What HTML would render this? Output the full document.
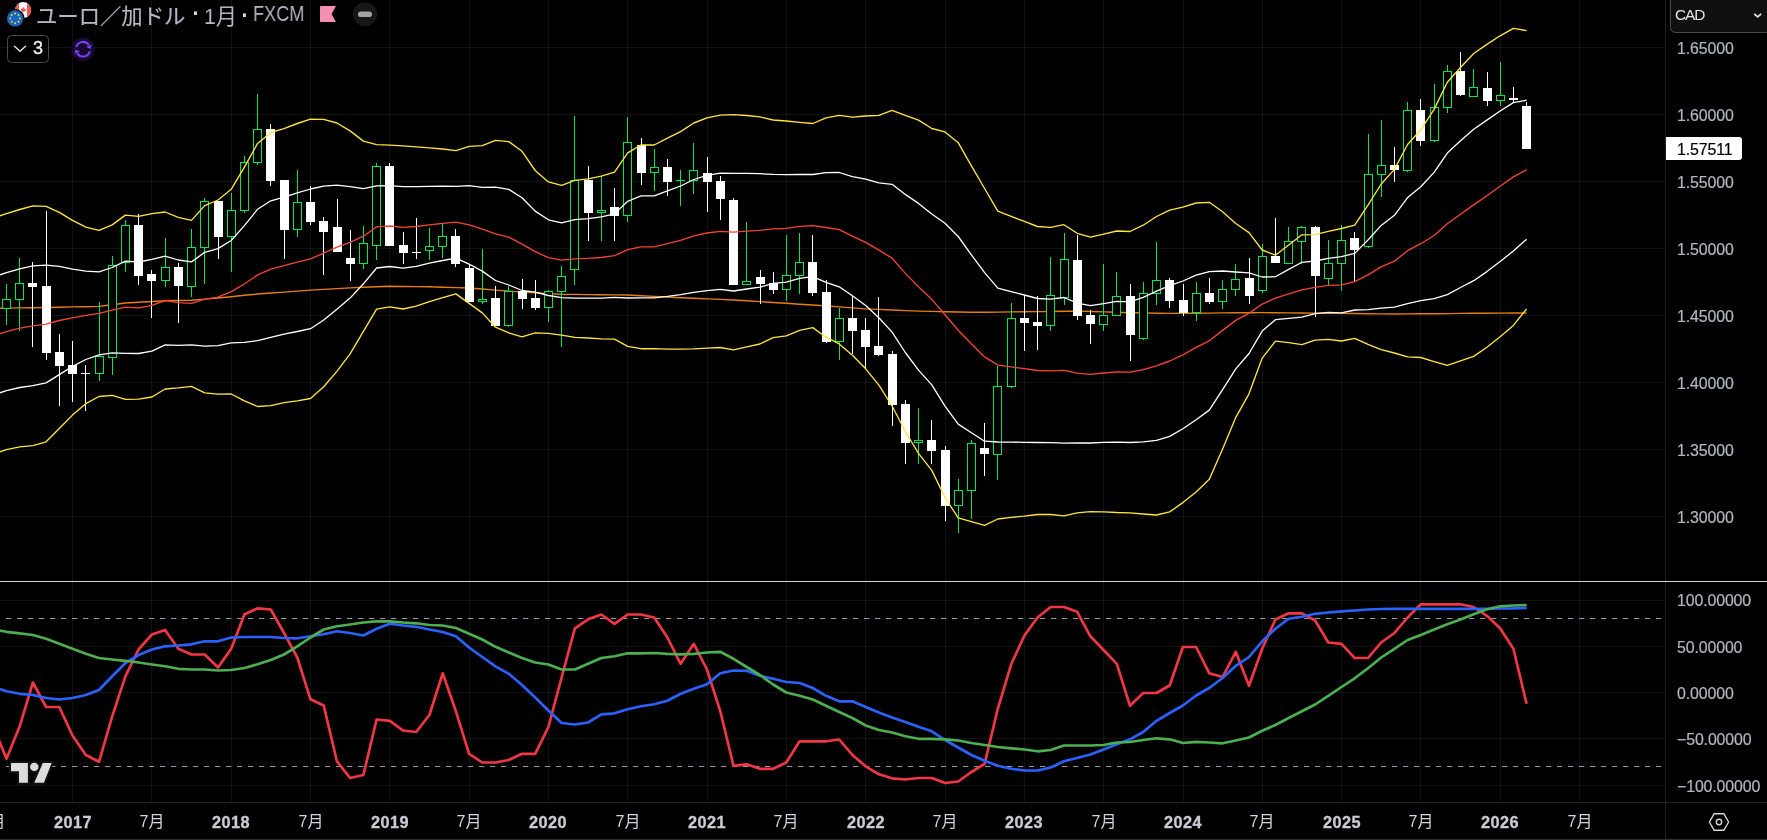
<!DOCTYPE html>
<html lang="ja"><head><meta charset="utf-8"><title>EURCAD</title>
<style>
html,body{margin:0;padding:0;background:#000;}
body{width:1767px;height:840px;position:relative;overflow:hidden;font-family:"Liberation Sans","Noto Sans CJK JP",sans-serif;}
.t{position:absolute;white-space:nowrap;line-height:1;will-change:transform;}
.pl{left:1677px;font-size:15.9px;color:#b2b5be;letter-spacing:-0.12px;-webkit-text-stroke:0.2px #b2b5be;}
.tl{font-size:16px;color:#d1d4dc;transform:translateX(-50%);top:814px;}
.tl.b{font-weight:bold;font-size:16.3px;letter-spacing:0.5px;color:#c9ccd5;-webkit-text-stroke:0.3px #c9ccd5;}
</style></head><body>
<svg width="1767" height="840" viewBox="0 0 1767 840" style="position:absolute;left:0;top:0">
<path d="M72.5 0V802M151.5 0V802M231.5 0V802M310.5 0V802M389.5 0V802M469.5 0V802M548.5 0V802M627.5 0V802M707.5 0V802M786.5 0V802M865.5 0V802M945.5 0V802M1024.5 0V802M1103.5 0V802M1183.5 0V802M1262.5 0V802M1341.5 0V802M1420.5 0V802M1500.5 0V802M1579.5 0V802" stroke="#fff" stroke-opacity="0.068" stroke-width="1" fill="none" shape-rendering="crispEdges"/>
<path d="M0 47.5H1665M0 114.5H1665M0 181.5H1665M0 248.5H1665M0 315.5H1665M0 382.5H1665M0 449.5H1665M0 516.5H1665M0 600.5H1665M0 646.5H1665M0 692.5H1665M0 738.5H1665M0 785.5H1665" stroke="#fff" stroke-opacity="0.068" stroke-width="1" fill="none" shape-rendering="crispEdges"/>
<path d="M-6.8 308.3 L6.5 308.1 L19.7 307.9 L32.9 307.7 L46.1 307.5 L59.3 307.2 L72.5 306.9 L85.8 306.7 L99 306.4 L112.2 304.7 L125.4 303 L138.6 302.2 L151.9 301.5 L165.1 300.7 L178.3 300.5 L191.5 300.3 L204.7 299.1 L218 298 L231.2 296.7 L244.4 295.3 L257.6 294 L270.8 293 L284 292.1 L297.3 291.1 L310.5 290.1 L323.7 289.4 L336.9 288.6 L350.1 287.9 L363.4 287.2 L376.6 286.8 L389.8 286.3 L403 286.5 L416.2 286.6 L429.4 286.8 L442.7 287.2 L455.9 287.6 L469.1 288 L482.3 289 L495.5 290.1 L508.8 291.1 L522 292.1 L535.2 292.8 L548.4 293.6 L561.6 294.3 L574.9 294.4 L588.1 294.6 L601.3 294.7 L614.5 294.9 L627.7 295 L640.9 295.7 L654.2 296.4 L667.4 297 L680.6 297.7 L693.8 298.3 L707 298.9 L720.3 299.4 L733.5 300 L746.7 300.8 L759.9 301.6 L773.1 302.5 L786.3 303.3 L799.6 304.2 L812.8 305 L826 305.9 L839.2 306.9 L852.4 307.9 L865.7 308.9 L878.9 309.4 L892.1 310 L905.3 310.6 L918.5 311.1 L931.8 311.4 L945 311.7 L958.2 312 L971.4 312.3 L984.6 312.2 L997.8 312.1 L1011.1 311.9 L1024.3 311.8 L1037.5 311.6 L1050.7 311.5 L1063.9 311.3 L1077.2 311.1 L1090.4 311.5 L1103.6 311.9 L1116.8 312.3 L1130 312.7 L1143.2 312.9 L1156.5 313.2 L1169.7 313.4 L1182.9 313.3 L1196.1 313.2 L1209.3 313.1 L1222.6 312.9 L1235.8 312.8 L1249 312.7 L1262.2 312.6 L1275.4 312.7 L1288.7 312.9 L1301.9 313 L1315.1 313.1 L1328.3 313.3 L1341.5 313.4 L1354.7 313.5 L1368 313.7 L1381.2 313.9 L1394.4 314 L1407.6 313.9 L1420.8 313.8 L1434.1 313.7 L1447.3 313.6 L1460.5 313.4 L1473.7 313.3 L1486.9 313.2 L1500.1 313.1 L1513.4 313 L1526.6 312.9" stroke="#ea7c10" stroke-width="1.45" fill="none" stroke-linejoin="round" stroke-linecap="butt" />
<g fill="#000" stroke="#00e64d" stroke-width="1" shape-rendering="crispEdges"><rect x="2.5" y="299.5" width="8" height="9"/><rect x="15.5" y="283.5" width="8" height="16"/><rect x="95.5" y="356.5" width="8" height="17"/><rect x="108.5" y="265.5" width="8" height="92"/><rect x="121.5" y="225.5" width="8" height="37"/><rect x="161.5" y="267.5" width="8" height="13"/><rect x="187.5" y="247.5" width="8" height="39"/><rect x="200.5" y="201.5" width="8" height="46"/><rect x="227.5" y="210.5" width="8" height="26"/><rect x="240.5" y="162.5" width="8" height="48"/><rect x="253.5" y="129.5" width="8" height="33"/><rect x="293.5" y="202.5" width="8" height="27"/><rect x="359.5" y="243.5" width="8" height="20"/><rect x="372.5" y="166.5" width="8" height="79"/><rect x="425.5" y="246.5" width="8" height="4"/><rect x="438.5" y="236.5" width="8" height="10"/><rect x="478.5" y="299.5" width="8" height="2"/><rect x="504.5" y="291.5" width="8" height="34"/><rect x="544.5" y="291.5" width="8" height="16"/><rect x="557.5" y="276.5" width="8" height="15"/><rect x="570.5" y="180.5" width="8" height="89"/><rect x="597.5" y="210.5" width="8" height="2"/><rect x="623.5" y="142.5" width="8" height="73"/><rect x="650.5" y="167.5" width="8" height="5"/><rect x="689.5" y="170.5" width="8" height="10"/><rect x="742.5" y="281.5" width="8" height="3"/><rect x="782.5" y="275.5" width="8" height="14"/><rect x="795.5" y="262.5" width="8" height="13"/><rect x="835.5" y="318.5" width="8" height="23"/><rect x="914.5" y="440.5" width="8" height="2"/><rect x="954.5" y="490.5" width="8" height="15"/><rect x="967.5" y="443.5" width="8" height="47"/><rect x="993.5" y="386.5" width="8" height="68"/><rect x="1007.5" y="318.5" width="8" height="68"/><rect x="1046.5" y="295.5" width="8" height="30"/><rect x="1060.5" y="259.5" width="8" height="38"/><rect x="1099.5" y="315.5" width="8" height="9"/><rect x="1112.5" y="296.5" width="8" height="19"/><rect x="1139.5" y="293.5" width="8" height="45"/><rect x="1152.5" y="280.5" width="8" height="13"/><rect x="1192.5" y="293.5" width="8" height="19"/><rect x="1218.5" y="289.5" width="8" height="12"/><rect x="1231.5" y="279.5" width="8" height="10"/><rect x="1258.5" y="256.5" width="8" height="34"/><rect x="1284.5" y="241.5" width="8" height="22"/><rect x="1297.5" y="227.5" width="8" height="14"/><rect x="1324.5" y="263.5" width="8" height="15"/><rect x="1337.5" y="240.5" width="8" height="23"/><rect x="1364.5" y="174.5" width="8" height="72"/><rect x="1377.5" y="165.5" width="8" height="9"/><rect x="1403.5" y="110.5" width="8" height="60"/><rect x="1430.5" y="107.5" width="8" height="33"/><rect x="1443.5" y="71.5" width="8" height="36"/><rect x="1469.5" y="87.5" width="8" height="9"/><rect x="1496.5" y="95.5" width="8" height="5"/></g>
<g fill="#00e64d" shape-rendering="crispEdges"><rect x="6" y="284" width="1" height="15"/><rect x="6" y="309" width="1" height="16"/><rect x="19" y="258" width="1" height="25"/><rect x="19" y="300" width="1" height="31"/><rect x="99" y="302" width="1" height="54"/><rect x="99" y="374" width="1" height="7"/><rect x="112" y="256" width="1" height="9"/><rect x="112" y="358" width="1" height="17"/><rect x="125" y="220" width="1" height="5"/><rect x="125" y="263" width="1" height="9"/><rect x="165" y="238" width="1" height="29"/><rect x="165" y="281" width="1" height="6"/><rect x="191" y="229" width="1" height="18"/><rect x="191" y="287" width="1" height="10"/><rect x="204" y="198" width="1" height="3"/><rect x="204" y="248" width="1" height="36"/><rect x="231" y="193" width="1" height="17"/><rect x="231" y="237" width="1" height="35"/><rect x="244" y="156" width="1" height="6"/><rect x="244" y="211" width="1" height="2"/><rect x="257" y="94" width="1" height="35"/><rect x="257" y="163" width="1" height="2"/><rect x="297" y="170" width="1" height="32"/><rect x="297" y="230" width="1" height="7"/><rect x="363" y="226" width="1" height="17"/><rect x="363" y="264" width="1" height="5"/><rect x="376" y="163" width="1" height="3"/><rect x="376" y="246" width="1" height="14"/><rect x="429" y="228" width="1" height="18"/><rect x="429" y="251" width="1" height="9"/><rect x="442" y="224" width="1" height="12"/><rect x="442" y="247" width="1" height="11"/><rect x="482" y="249" width="1" height="50"/><rect x="482" y="302" width="1" height="2"/><rect x="508" y="286" width="1" height="5"/><rect x="508" y="326" width="1" height="1"/><rect x="548" y="290" width="1" height="1"/><rect x="548" y="308" width="1" height="14"/><rect x="561" y="266" width="1" height="10"/><rect x="561" y="292" width="1" height="55"/><rect x="574" y="116" width="1" height="64"/><rect x="574" y="270" width="1" height="15"/><rect x="601" y="176" width="1" height="34"/><rect x="601" y="213" width="1" height="28"/><rect x="627" y="117" width="1" height="25"/><rect x="627" y="216" width="1" height="6"/><rect x="654" y="149" width="1" height="18"/><rect x="654" y="173" width="1" height="18"/><rect x="680" y="170" width="1" height="10"/><rect x="680" y="181" width="1" height="25"/><rect x="676" y="180" width="9" height="1"/><rect x="693" y="143" width="1" height="27"/><rect x="693" y="181" width="1" height="13"/><rect x="746" y="222" width="1" height="59"/><rect x="786" y="235" width="1" height="40"/><rect x="786" y="290" width="1" height="11"/><rect x="799" y="233" width="1" height="29"/><rect x="799" y="276" width="1" height="18"/><rect x="839" y="308" width="1" height="10"/><rect x="839" y="342" width="1" height="18"/><rect x="918" y="408" width="1" height="32"/><rect x="918" y="443" width="1" height="21"/><rect x="958" y="479" width="1" height="11"/><rect x="958" y="506" width="1" height="27"/><rect x="971" y="440" width="1" height="3"/><rect x="971" y="491" width="1" height="28"/><rect x="997" y="366" width="1" height="20"/><rect x="997" y="455" width="1" height="25"/><rect x="1011" y="303" width="1" height="15"/><rect x="1011" y="387" width="1" height="1"/><rect x="1050" y="257" width="1" height="38"/><rect x="1050" y="326" width="1" height="5"/><rect x="1064" y="233" width="1" height="26"/><rect x="1064" y="298" width="1" height="7"/><rect x="1103" y="264" width="1" height="51"/><rect x="1103" y="325" width="1" height="6"/><rect x="1116" y="272" width="1" height="24"/><rect x="1143" y="282" width="1" height="11"/><rect x="1143" y="339" width="1" height="1"/><rect x="1156" y="242" width="1" height="38"/><rect x="1156" y="294" width="1" height="11"/><rect x="1196" y="282" width="1" height="11"/><rect x="1196" y="313" width="1" height="8"/><rect x="1222" y="280" width="1" height="9"/><rect x="1222" y="302" width="1" height="7"/><rect x="1235" y="264" width="1" height="15"/><rect x="1235" y="290" width="1" height="6"/><rect x="1262" y="244" width="1" height="12"/><rect x="1262" y="291" width="1" height="2"/><rect x="1288" y="227" width="1" height="14"/><rect x="1301" y="226" width="1" height="1"/><rect x="1301" y="242" width="1" height="22"/><rect x="1328" y="240" width="1" height="23"/><rect x="1328" y="279" width="1" height="6"/><rect x="1341" y="225" width="1" height="15"/><rect x="1341" y="264" width="1" height="27"/><rect x="1368" y="134" width="1" height="40"/><rect x="1368" y="247" width="1" height="1"/><rect x="1381" y="120" width="1" height="45"/><rect x="1381" y="175" width="1" height="22"/><rect x="1407" y="102" width="1" height="8"/><rect x="1407" y="171" width="1" height="1"/><rect x="1434" y="84" width="1" height="23"/><rect x="1434" y="141" width="1" height="1"/><rect x="1447" y="65" width="1" height="6"/><rect x="1447" y="108" width="1" height="5"/><rect x="1473" y="69" width="1" height="18"/><rect x="1500" y="62" width="1" height="33"/><rect x="1500" y="101" width="1" height="5"/></g>
<g fill="#fff" shape-rendering="crispEdges"><rect x="32" y="262" width="1" height="85"/><rect x="28" y="283" width="9" height="4"/><rect x="46" y="211" width="1" height="149"/><rect x="42" y="286" width="9" height="67"/><rect x="59" y="334" width="1" height="72"/><rect x="55" y="352" width="9" height="14"/><rect x="72" y="341" width="1" height="61"/><rect x="68" y="365" width="9" height="9"/><rect x="85" y="365" width="1" height="46"/><rect x="81" y="373" width="9" height="1"/><rect x="138" y="214" width="1" height="71"/><rect x="134" y="225" width="9" height="51"/><rect x="151" y="270" width="1" height="48"/><rect x="147" y="274" width="9" height="7"/><rect x="178" y="263" width="1" height="60"/><rect x="174" y="267" width="9" height="19"/><rect x="218" y="201" width="1" height="58"/><rect x="214" y="201" width="9" height="36"/><rect x="270" y="124" width="1" height="62"/><rect x="266" y="129" width="9" height="52"/><rect x="284" y="180" width="1" height="79"/><rect x="280" y="180" width="9" height="50"/><rect x="310" y="186" width="1" height="39"/><rect x="306" y="202" width="9" height="20"/><rect x="323" y="217" width="1" height="58"/><rect x="319" y="221" width="9" height="11"/><rect x="337" y="199" width="1" height="53"/><rect x="333" y="227" width="9" height="25"/><rect x="350" y="230" width="1" height="51"/><rect x="346" y="258" width="9" height="6"/><rect x="389" y="163" width="1" height="83"/><rect x="385" y="166" width="9" height="80"/><rect x="403" y="232" width="1" height="32"/><rect x="399" y="245" width="9" height="8"/><rect x="416" y="218" width="1" height="41"/><rect x="412" y="252" width="9" height="1"/><rect x="455" y="229" width="1" height="38"/><rect x="451" y="236" width="9" height="28"/><rect x="469" y="265" width="1" height="37"/><rect x="465" y="268" width="9" height="34"/><rect x="495" y="286" width="1" height="40"/><rect x="491" y="298" width="9" height="28"/><rect x="522" y="279" width="1" height="30"/><rect x="518" y="291" width="9" height="8"/><rect x="535" y="280" width="1" height="30"/><rect x="531" y="298" width="9" height="10"/><rect x="588" y="166" width="1" height="75"/><rect x="584" y="180" width="9" height="33"/><rect x="614" y="188" width="1" height="53"/><rect x="610" y="207" width="9" height="9"/><rect x="641" y="138" width="1" height="47"/><rect x="637" y="145" width="9" height="28"/><rect x="667" y="159" width="1" height="37"/><rect x="663" y="167" width="9" height="15"/><rect x="707" y="157" width="1" height="55"/><rect x="703" y="173" width="9" height="9"/><rect x="720" y="176" width="1" height="44"/><rect x="716" y="181" width="9" height="18"/><rect x="733" y="198" width="1" height="87"/><rect x="729" y="200" width="9" height="85"/><rect x="760" y="270" width="1" height="34"/><rect x="756" y="277" width="9" height="7"/><rect x="773" y="272" width="1" height="22"/><rect x="769" y="283" width="9" height="7"/><rect x="812" y="235" width="1" height="61"/><rect x="808" y="262" width="9" height="31"/><rect x="826" y="280" width="1" height="63"/><rect x="822" y="292" width="9" height="50"/><rect x="852" y="296" width="1" height="58"/><rect x="848" y="318" width="9" height="13"/><rect x="865" y="318" width="1" height="51"/><rect x="861" y="330" width="9" height="17"/><rect x="878" y="297" width="1" height="59"/><rect x="874" y="346" width="9" height="9"/><rect x="892" y="351" width="1" height="75"/><rect x="888" y="354" width="9" height="51"/><rect x="905" y="400" width="1" height="64"/><rect x="901" y="404" width="9" height="39"/><rect x="931" y="420" width="1" height="44"/><rect x="927" y="440" width="9" height="11"/><rect x="945" y="446" width="1" height="75"/><rect x="941" y="450" width="9" height="56"/><rect x="984" y="423" width="1" height="53"/><rect x="980" y="448" width="9" height="6"/><rect x="1024" y="295" width="1" height="56"/><rect x="1020" y="318" width="9" height="5"/><rect x="1037" y="296" width="1" height="54"/><rect x="1033" y="322" width="9" height="4"/><rect x="1077" y="235" width="1" height="85"/><rect x="1073" y="260" width="9" height="56"/><rect x="1090" y="310" width="1" height="34"/><rect x="1086" y="315" width="9" height="9"/><rect x="1130" y="284" width="1" height="77"/><rect x="1126" y="296" width="9" height="39"/><rect x="1169" y="278" width="1" height="30"/><rect x="1165" y="280" width="9" height="21"/><rect x="1183" y="284" width="1" height="32"/><rect x="1179" y="300" width="9" height="13"/><rect x="1209" y="278" width="1" height="26"/><rect x="1205" y="293" width="9" height="9"/><rect x="1249" y="258" width="1" height="46"/><rect x="1245" y="278" width="9" height="18"/><rect x="1275" y="218" width="1" height="45"/><rect x="1271" y="256" width="9" height="7"/><rect x="1315" y="226" width="1" height="91"/><rect x="1311" y="227" width="9" height="49"/><rect x="1354" y="232" width="1" height="50"/><rect x="1350" y="238" width="9" height="12"/><rect x="1394" y="147" width="1" height="35"/><rect x="1390" y="165" width="9" height="5"/><rect x="1420" y="99" width="1" height="47"/><rect x="1416" y="110" width="9" height="31"/><rect x="1460" y="52" width="1" height="44"/><rect x="1456" y="71" width="9" height="24"/><rect x="1487" y="72" width="1" height="34"/><rect x="1483" y="88" width="9" height="13"/><rect x="1513" y="87" width="1" height="15"/><rect x="1509" y="98" width="9" height="2"/><rect x="1526" y="102" width="1" height="47"/><rect x="1522" y="106" width="9" height="43"/></g>
<path d="M-6.8 336 L6.5 331.6 L19.7 328.1 L32.9 325.8 L46.1 324.1 L59.3 320.5 L72.5 317.8 L85.8 315.4 L99 313.4 L112.2 310.1 L125.4 307.2 L138.6 307.8 L151.9 305.3 L165.1 300.5 L178.3 302.6 L191.5 303.4 L204.7 299.2 L218 297.1 L231.2 291.6 L244.4 284 L257.6 274.9 L270.8 269.1 L284 265.6 L297.3 262.1 L310.5 258.9 L323.7 253.1 L336.9 247.2 L350.1 242.4 L363.4 236.2 L376.6 226.9 L389.8 226 L403 227.4 L416.2 226.5 L429.4 224.8 L442.7 223.3 L455.9 222.2 L469.1 224.8 L482.3 229.2 L495.5 233.8 L508.8 237.2 L522 244.1 L535.2 251.7 L548.4 257.6 L561.6 260.2 L574.9 258.8 L588.1 258.4 L601.3 257.5 L614.5 255.6 L627.7 249.6 L640.9 246.8 L654.2 246.8 L667.4 243.7 L680.6 240.4 L693.8 235.9 L707 233 L720.3 231.3 L733.5 232.2 L746.7 231.2 L759.9 230.4 L773.1 228.8 L786.3 228.4 L799.6 226.4 L812.8 225.6 L826 227.5 L839.2 229.6 L852.4 236.2 L865.7 242.4 L878.9 250.2 L892.1 258.2 L905.3 273.4 L918.5 286.8 L931.8 299.4 L945 314.7 L958.2 330.3 L971.4 343.8 L984.6 356.9 L997.8 365.1 L1011.1 366.9 L1024.3 368.7 L1037.5 370.5 L1050.7 370.9 L1063.9 370.3 L1077.2 373.1 L1090.4 374.4 L1103.6 373 L1116.8 371.8 L1130 372.2 L1143.2 369.6 L1156.5 365.8 L1169.7 361 L1182.9 354.9 L1196.1 347.4 L1209.3 340.8 L1222.6 330.4 L1235.8 320.4 L1249 313.2 L1262.2 304.1 L1275.4 298.2 L1288.7 293.9 L1301.9 289.8 L1315.1 287.4 L1328.3 285.4 L1341.5 284.8 L1354.7 281.7 L1368 274.8 L1381.2 266.8 L1394.4 261.2 L1407.6 250.7 L1420.8 243.7 L1434.1 235.5 L1447.3 223.8 L1460.5 214.2 L1473.7 204.9 L1486.9 195.8 L1500.1 186.2 L1513.4 176.9 L1526.6 169.7" stroke="#f44336" stroke-width="1.35" fill="none" stroke-linejoin="round" stroke-linecap="butt" />
<path d="M-6.8 277 L6.5 272.6 L19.7 268.8 L32.9 265.8 L46.1 265.2 L59.3 266.4 L72.5 269.1 L85.8 271.2 L99 271.9 L112.2 267.5 L125.4 261.2 L138.6 262 L151.9 259.4 L165.1 256.2 L178.3 260 L191.5 261.9 L204.7 252.4 L218 248.6 L231.2 240.5 L244.4 225.6 L257.6 209.2 L270.8 200.8 L284 197.2 L297.3 192.8 L310.5 189 L323.7 186.2 L336.9 185.1 L350.1 186.6 L363.4 188.6 L376.6 185.8 L389.8 185.6 L403 186.7 L416.2 186.6 L429.4 186.3 L442.7 186.2 L455.9 186.4 L469.1 185.6 L482.3 187.4 L495.5 187.1 L508.8 189.4 L522 197.7 L535.2 211.1 L548.4 219.8 L561.6 222.8 L574.9 219.6 L588.1 218.7 L601.3 216.9 L614.5 213.9 L627.7 201.3 L640.9 195.9 L654.2 195.9 L667.4 190.9 L680.6 186 L693.8 179.5 L707 175.4 L720.3 173.2 L733.5 173.4 L746.7 173.3 L759.9 173.7 L773.1 174.4 L786.3 174.7 L799.6 174.4 L812.8 174.5 L826 172.7 L839.2 172.5 L852.4 176.7 L865.7 179.2 L878.9 182.8 L892.1 184.3 L905.3 194.4 L918.5 203.4 L931.8 214 L945 223.3 L958.2 236.5 L971.4 254.8 L984.6 272.7 L997.8 288.1 L1011.1 291.6 L1024.3 295 L1037.5 298.5 L1050.7 299.2 L1063.9 297.5 L1077.2 303.2 L1090.4 305.7 L1103.6 303.6 L1116.8 301.4 L1130 301.9 L1143.2 297.4 L1156.5 291.1 L1169.7 285.6 L1182.9 281 L1196.1 275.2 L1209.3 271.6 L1222.6 271 L1235.8 272 L1249 272.9 L1262.2 277 L1275.4 276.7 L1288.7 269.4 L1301.9 262.3 L1315.1 261 L1328.3 258.4 L1341.5 256.6 L1354.7 253.4 L1368 240 L1381.2 225.4 L1394.4 215.3 L1407.6 197.6 L1420.8 186.7 L1434.1 172.4 L1447.3 153.1 L1460.5 140.8 L1473.7 129.2 L1486.9 120.1 L1500.1 111 L1513.4 102.6 L1526.6 100.2" stroke="#ffffff" stroke-width="1.3" fill="none" stroke-linejoin="round" stroke-linecap="butt" />
<path d="M-6.8 395 L6.5 390.7 L19.7 387.5 L32.9 385.7 L46.1 382.9 L59.3 374.6 L72.5 366.4 L85.8 359.5 L99 354.9 L112.2 352.8 L125.4 353.3 L138.6 353.5 L151.9 351.1 L165.1 344.8 L178.3 345.3 L191.5 344.8 L204.7 346.1 L218 345.6 L231.2 342.8 L244.4 342.4 L257.6 340.7 L270.8 337.3 L284 334.1 L297.3 331.5 L310.5 328.7 L323.7 320 L336.9 309.3 L350.1 298.1 L363.4 283.8 L376.6 268 L389.8 266.5 L403 268.2 L416.2 266.3 L429.4 263.2 L442.7 260.5 L455.9 258.1 L469.1 264.1 L482.3 271.1 L495.5 280.5 L508.8 285 L522 290.5 L535.2 292.2 L548.4 295.5 L561.6 297.7 L574.9 298.1 L588.1 298.2 L601.3 298.2 L614.5 297.4 L627.7 298 L640.9 297.8 L654.2 297.8 L667.4 296.4 L680.6 294.7 L693.8 292.4 L707 290.6 L720.3 289.4 L733.5 291 L746.7 289 L759.9 287.2 L773.1 283.3 L786.3 282.1 L799.6 278.4 L812.8 276.6 L826 282.4 L839.2 286.8 L852.4 295.8 L865.7 305.6 L878.9 317.7 L892.1 332.1 L905.3 352.5 L918.5 370.1 L931.8 384.9 L945 406.1 L958.2 424.1 L971.4 432.7 L984.6 441.2 L997.8 442 L1011.1 442.1 L1024.3 442.4 L1037.5 442.5 L1050.7 442.7 L1063.9 443.1 L1077.2 443 L1090.4 443 L1103.6 442.4 L1116.8 442.1 L1130 442.5 L1143.2 441.8 L1156.5 440.4 L1169.7 436.4 L1182.9 428.7 L1196.1 419.7 L1209.3 410.1 L1222.6 389.7 L1235.8 368.9 L1249 353.5 L1262.2 331.1 L1275.4 319.7 L1288.7 318.3 L1301.9 317.2 L1315.1 313.7 L1328.3 312.4 L1341.5 312.9 L1354.7 310 L1368 309.6 L1381.2 308.2 L1394.4 307.1 L1407.6 303.7 L1420.8 300.6 L1434.1 298.6 L1447.3 294.6 L1460.5 287.5 L1473.7 280.7 L1486.9 271.6 L1500.1 261.5 L1513.4 251.1 L1526.6 239.2" stroke="#ffffff" stroke-width="1.3" fill="none" stroke-linejoin="round" stroke-linecap="butt" />
<path d="M-6.8 218 L6.5 213.6 L19.7 209.5 L32.9 205.9 L46.1 206.3 L59.3 212.4 L72.5 220.4 L85.8 227.1 L99 230.3 L112.2 224.9 L125.4 215.1 L138.6 216.3 L151.9 213.6 L165.1 212 L178.3 217.4 L191.5 220.4 L204.7 205.6 L218 200 L231.2 189.3 L244.4 167.2 L257.6 143.4 L270.8 132.5 L284 128.7 L297.3 123.5 L310.5 119.2 L323.7 119.4 L336.9 123 L350.1 130.9 L363.4 141.1 L376.6 144.7 L389.8 145.2 L403 145.9 L416.2 146.8 L429.4 147.9 L442.7 149 L455.9 150.6 L469.1 146.3 L482.3 145.6 L495.5 140.4 L508.8 141.6 L522 151.3 L535.2 170.5 L548.4 181.9 L561.6 185.3 L574.9 180.3 L588.1 178.9 L601.3 176.2 L614.5 172.1 L627.7 152.9 L640.9 145 L654.2 145 L667.4 138.2 L680.6 131.6 L693.8 123 L707 117.8 L720.3 115.1 L733.5 114.6 L746.7 115.5 L759.9 116.9 L773.1 120 L786.3 121 L799.6 122.4 L812.8 123.5 L826 117.8 L839.2 115.4 L852.4 117.2 L865.7 116 L878.9 115.4 L892.1 110.4 L905.3 115.4 L918.5 120.1 L931.8 128.5 L945 131.9 L958.2 142.7 L971.4 165.8 L984.6 188.5 L997.8 211.1 L1011.1 216.3 L1024.3 221.3 L1037.5 226.5 L1050.7 227.4 L1063.9 224.7 L1077.2 233.3 L1090.4 237.1 L1103.6 234.2 L1116.8 231 L1130 231.5 L1143.2 225.2 L1156.5 216.5 L1169.7 210.1 L1182.9 207.1 L1196.1 203 L1209.3 202.3 L1222.6 211.7 L1235.8 223.5 L1249 232.6 L1262.2 250 L1275.4 255.2 L1288.7 245 L1301.9 234.8 L1315.1 234.6 L1328.3 231.4 L1341.5 228.5 L1354.7 225.1 L1368 205.2 L1381.2 184 L1394.4 169.4 L1407.6 144.5 L1420.8 129.8 L1434.1 109.4 L1447.3 82.3 L1460.5 67.5 L1473.7 53.5 L1486.9 44.4 L1500.1 35.8 L1513.4 28.4 L1526.6 30.6" stroke="#fde53a" stroke-width="1.35" fill="none" stroke-linejoin="round" stroke-linecap="butt" />
<path d="M-6.8 454 L6.5 449.7 L19.7 446.8 L32.9 445.6 L46.1 441.8 L59.3 428.6 L72.5 415.1 L85.8 403.7 L99 396.5 L112.2 395.4 L125.4 399.4 L138.6 399.2 L151.9 397 L165.1 389 L178.3 387.9 L191.5 386.3 L204.7 392.9 L218 394.2 L231.2 394 L244.4 400.8 L257.6 406.5 L270.8 405.6 L284 402.6 L297.3 400.8 L310.5 398.5 L323.7 386.8 L336.9 371.4 L350.1 353.9 L363.4 331.3 L376.6 309.1 L389.8 306.9 L403 309 L416.2 306.1 L429.4 301.6 L442.7 297.7 L455.9 293.9 L469.1 303.4 L482.3 312.9 L495.5 327.2 L508.8 332.8 L522 336.9 L535.2 332.8 L548.4 333.3 L561.6 335.1 L574.9 337.3 L588.1 338 L601.3 338.9 L614.5 339.2 L627.7 346.4 L640.9 348.7 L654.2 348.7 L667.4 349.1 L680.6 349.1 L693.8 348.9 L707 348.2 L720.3 347.5 L733.5 349.8 L746.7 346.8 L759.9 344 L773.1 337.7 L786.3 335.8 L799.6 330.4 L812.8 327.6 L826 337.2 L839.2 343.9 L852.4 355.3 L865.7 368.8 L878.9 385.1 L892.1 406 L905.3 431.5 L918.5 453.4 L931.8 470.4 L945 497.5 L958.2 517.9 L971.4 521.7 L984.6 525.4 L997.8 519 L1011.1 517.4 L1024.3 516.1 L1037.5 514.5 L1050.7 514.5 L1063.9 515.9 L1077.2 512.9 L1090.4 511.6 L1103.6 511.8 L1116.8 512.5 L1130 512.9 L1143.2 514 L1156.5 515 L1169.7 511.9 L1182.9 502.6 L1196.1 491.9 L1209.3 479.3 L1222.6 449 L1235.8 417.4 L1249 393.8 L1262.2 358.1 L1275.4 341.2 L1288.7 342.7 L1301.9 344.7 L1315.1 340.1 L1328.3 339.4 L1341.5 341 L1354.7 338.3 L1368 344.4 L1381.2 349.6 L1394.4 353 L1407.6 356.8 L1420.8 357.5 L1434.1 361.6 L1447.3 365.4 L1460.5 360.9 L1473.7 356.4 L1486.9 347.3 L1500.1 336.7 L1513.4 325.4 L1526.6 308.8" stroke="#fde53a" stroke-width="1.35" fill="none" stroke-linejoin="round" stroke-linecap="butt" />
<path d="M6 618.5H1662M6 766.5H1662" stroke="#9598a1" stroke-width="1" stroke-dasharray="5.3 5.7" fill="none"/>
<path d="M-6.8 726 L6.5 758.8 L19.7 726.3 L32.9 682.5 L46.1 707 L59.3 707 L72.5 735.5 L85.8 755 L99 761.8 L112.2 716.3 L125.4 676.3 L138.6 649.3 L151.9 634.5 L165.1 630 L178.3 648.8 L191.5 654.5 L204.7 654.5 L218 667.5 L231.2 648.8 L244.4 614.5 L257.6 608.3 L270.8 609.5 L284 633 L297.3 657.5 L310.5 699.3 L323.7 705.5 L336.9 761.3 L350.1 778 L363.4 775 L376.6 719.5 L389.8 720.8 L403 730.5 L416.2 732 L429.4 715 L442.7 673.3 L455.9 711.3 L469.1 753.8 L482.3 762.5 L495.5 762.5 L508.8 760 L522 753.8 L535.2 753.8 L548.4 727 L561.6 677.5 L574.9 628.3 L588.1 619.3 L601.3 614.5 L614.5 623.8 L627.7 614.5 L640.9 614.5 L654.2 617.5 L667.4 637.5 L680.6 663.8 L693.8 643.8 L707 669.5 L720.3 711.3 L733.5 765.8 L746.7 764.3 L759.9 768.8 L773.1 768.8 L786.3 762.5 L799.6 741.3 L812.8 741.3 L826 741.3 L839.2 739.5 L852.4 755 L865.7 766.3 L878.9 774.3 L892.1 778.3 L905.3 779.5 L918.5 778 L931.8 778 L945 783 L958.2 781.5 L971.4 772 L984.6 763.8 L997.8 708.8 L1011.1 664.5 L1024.3 635.8 L1037.5 617.5 L1050.7 607 L1063.9 607 L1077.2 611.8 L1090.4 636.3 L1103.6 650 L1116.8 663.8 L1130 705.8 L1143.2 693 L1156.5 693 L1169.7 685.5 L1182.9 647 L1196.1 647 L1209.3 673.3 L1222.6 677 L1235.8 651.8 L1249 685.8 L1262.2 648.8 L1275.4 619.5 L1288.7 613.3 L1301.9 613.3 L1315.1 620.5 L1328.3 642.5 L1341.5 643.8 L1354.7 658 L1368 658 L1381.2 642.5 L1394.4 633 L1407.6 617.5 L1420.8 604.3 L1434.1 604.3 L1447.3 604.3 L1460.5 604.3 L1473.7 607 L1486.9 615.8 L1500.1 628.3 L1513.4 648.8 L1526.6 703.8" stroke="#f23645" stroke-width="2.67" fill="none" stroke-linejoin="round" stroke-linecap="butt" />
<path d="M-6.8 687 L6.5 691.3 L19.7 693.8 L32.9 695 L46.1 698 L59.3 699.5 L72.5 698 L85.8 695 L99 690 L112.2 676.3 L125.4 663 L138.6 655 L151.9 649.5 L165.1 646.3 L178.3 645.5 L191.5 644.3 L204.7 641.3 L218 641.3 L231.2 637.5 L244.4 637 L257.6 637 L270.8 637 L284 638 L297.3 638.3 L310.5 636.3 L323.7 634.3 L336.9 631.3 L350.1 633 L363.4 635.5 L376.6 628.8 L389.8 623.8 L403 625.5 L416.2 626.8 L429.4 629.5 L442.7 632 L455.9 636.3 L469.1 647.5 L482.3 657 L495.5 666.3 L508.8 673.8 L522 685 L535.2 697.5 L548.4 710.5 L561.6 723 L574.9 724.5 L588.1 722.5 L601.3 714.3 L614.5 713.3 L627.7 709.3 L640.9 706.3 L654.2 704.3 L667.4 700.8 L680.6 693.8 L693.8 688.8 L707 684.3 L720.3 673.3 L733.5 670.5 L746.7 670.8 L759.9 675.8 L773.1 678.8 L786.3 682 L799.6 683 L812.8 688 L826 695.8 L839.2 701.3 L852.4 701.3 L865.7 707 L878.9 712.5 L892.1 717.5 L905.3 722 L918.5 726.8 L931.8 731.3 L945 740 L958.2 747.5 L971.4 755 L984.6 760.8 L997.8 765.8 L1011.1 768.8 L1024.3 770.5 L1037.5 770.5 L1050.7 767.5 L1063.9 761.3 L1077.2 758 L1090.4 754.5 L1103.6 749.5 L1116.8 744.3 L1130 739.3 L1143.2 732 L1156.5 720.8 L1169.7 713 L1182.9 705.5 L1196.1 695.5 L1209.3 688 L1222.6 678 L1235.8 665.8 L1249 657 L1262.2 641.3 L1275.4 628.8 L1288.7 618.8 L1301.9 616.8 L1315.1 613.8 L1328.3 612.5 L1341.5 611.3 L1354.7 610.5 L1368 609.5 L1381.2 609 L1394.4 608.8 L1407.6 608.8 L1420.8 608.8 L1434.1 608.8 L1447.3 608.8 L1460.5 608.8 L1473.7 608.8 L1486.9 608.8 L1500.1 608.5 L1513.4 608.3 L1526.6 607.8" stroke="#2962ff" stroke-width="2.67" fill="none" stroke-linejoin="round" stroke-linecap="butt" />
<path d="M-6.8 629.5 L6.5 631.8 L19.7 633.3 L32.9 635 L46.1 638.8 L59.3 643.8 L72.5 648.8 L85.8 653.8 L99 658 L112.2 659.5 L125.4 660.8 L138.6 662.5 L151.9 664.5 L165.1 666.3 L178.3 668.8 L191.5 669.5 L204.7 669.5 L218 670.5 L231.2 670 L244.4 668 L257.6 664.3 L270.8 660 L284 654.5 L297.3 646.3 L310.5 637.5 L323.7 629.5 L336.9 626.3 L350.1 624.5 L363.4 622.5 L376.6 621.3 L389.8 621.3 L403 622.5 L416.2 623.3 L429.4 625 L442.7 625.5 L455.9 628 L469.1 633.8 L482.3 639.5 L495.5 646.8 L508.8 652.5 L522 658 L535.2 662.5 L548.4 664.5 L561.6 669.5 L574.9 669.5 L588.1 663.8 L601.3 658 L614.5 656.3 L627.7 653.3 L640.9 653.3 L654.2 653 L667.4 653.8 L680.6 654.3 L693.8 653.8 L707 652.5 L720.3 651.8 L733.5 658.8 L746.7 667 L759.9 675 L773.1 684.5 L786.3 692.5 L799.6 695.8 L812.8 699.5 L826 705.8 L839.2 712 L852.4 718 L865.7 725.5 L878.9 730 L892.1 732.5 L905.3 736.3 L918.5 738.8 L931.8 738.8 L945 739.3 L958.2 740.5 L971.4 743 L984.6 745 L997.8 747 L1011.1 748.3 L1024.3 749.5 L1037.5 751.3 L1050.7 750 L1063.9 745.5 L1077.2 745.5 L1090.4 745.5 L1103.6 745 L1116.8 742.5 L1130 742 L1143.2 740 L1156.5 738.3 L1169.7 739.3 L1182.9 743 L1196.1 741.8 L1209.3 742.5 L1222.6 743.3 L1235.8 740.5 L1249 737.5 L1262.2 730.8 L1275.4 725 L1288.7 718 L1301.9 711.3 L1315.1 704.5 L1328.3 695.8 L1341.5 687 L1354.7 678.3 L1368 668.3 L1381.2 657.5 L1394.4 648.8 L1407.6 640 L1420.8 635 L1434.1 629.5 L1447.3 624.3 L1460.5 619.5 L1473.7 614.3 L1486.9 609.3 L1500.1 606.3 L1513.4 605.5 L1526.6 605" stroke="#4caf50" stroke-width="2.67" fill="none" stroke-linejoin="round" stroke-linecap="butt" />
<path d="M1665.5 0V840M0 802.5H1767" stroke="#212121" stroke-width="1" shape-rendering="crispEdges"/>
<path d="M0 581.5H1767" stroke="#d1d4dc" stroke-width="1" shape-rendering="crispEdges"/>
<path d="M0 839.5H1767" stroke="#2e2e2e" stroke-width="1" shape-rendering="crispEdges"/>
<defs><clipPath id="cca"><circle cx="23.1" cy="10.1" r="8"/></clipPath></defs>
<g clip-path="url(#cca)"><rect x="15" y="2" width="17" height="17" fill="#f7f7fa"/><rect x="15" y="2" width="4" height="17" fill="#ef5350"/><rect x="27" y="2" width="5" height="17" fill="#ef5350"/><path d="M23.3 6.6l.8 1.5.9-.3-.4 2.1 1.1-1 .25.65 1.3-.25-.5 1.4.55.35-2.1 1.6.25.8-1.9-.25v1.6h-.5v-1.6l-1.9.25.25-.8-2.1-1.6.55-.35-.5-1.4 1.3.25.25-.65 1.1 1-.4-2.1.9.3z" fill="#ef5350" transform="translate(23.4 9.8) scale(0.68) translate(-23.3 -10.6)"/></g>
<circle cx="15.1" cy="18.4" r="9.4" fill="#000"/>
<circle cx="15.1" cy="18.4" r="8.1" fill="#1666c1"/>
<g fill="#f6d32d"><circle cx="15.10" cy="13.55" r="1.0"/><circle cx="18.53" cy="14.97" r="1.0"/><circle cx="19.95" cy="18.40" r="1.0"/><circle cx="18.53" cy="21.83" r="1.0"/><circle cx="15.10" cy="23.25" r="1.0"/><circle cx="11.67" cy="21.83" r="1.0"/><circle cx="10.25" cy="18.40" r="1.0"/><circle cx="11.67" cy="14.97" r="1.0"/></g>
<path d="M321 6h15l-4.4 8 4.4 8h-15a1 1 0 0 1-1-1v-14a1 1 0 0 1 1-1z" fill="#f48fb1"/>
<circle cx="365" cy="14.3" r="12" fill="#171717"/><rect x="358" y="11.4" width="14" height="5.6" rx="2.8" fill="#a3a3a3"/>
<rect x="7.5" y="35.5" width="41" height="27" rx="4" fill="#000" stroke="#4a4a4a" stroke-width="1"/>
<path d="M14.5 46.3l5.5 5 5.5-5" fill="none" stroke="#e0e0e0" stroke-width="1.5" stroke-linecap="round" stroke-linejoin="round"/>
<circle cx="83" cy="49.2" r="11.8" fill="#170a30"/>
<g fill="none" stroke="#7e3ff2" stroke-width="2" stroke-linecap="butt"><path d="M76.2 47.2a7 7 0 0 1 12.6-2.2"/><path d="M89.8 51.2a7 7 0 0 1-12.6 2.2"/></g>
<path d="M91.6 44.4l-1.2 4.6-4.4-2.2z" fill="#7e3ff2"/><path d="M74.4 54l1.2-4.6 4.4 2.2z" fill="#7e3ff2"/>
<rect x="1670.5" y="-6" width="100" height="38.5" rx="5" fill="#0f0f0f" stroke="#4b4b4b" stroke-width="1"/>
<path d="M1754.8 14.3l2.9 2.6 2.9-2.6" fill="none" stroke="#e0e0e0" stroke-width="1.8" stroke-linecap="round" stroke-linejoin="round"/>
<path d="M1709.4 822l4.8-8.3h9.6l4.8 8.3-4.8 8.3h-9.6z" fill="none" stroke="#d4d4d4" stroke-width="1.4" stroke-linejoin="round"/><circle cx="1719" cy="822" r="2.7" fill="none" stroke="#d4d4d4" stroke-width="1.4"/>
<g stroke="#111" stroke-width="4" stroke-linejoin="miter" fill="#111"><path d="M11 762.9h16.9v19.9h-8.9v-11.6h-8z M42.8 762.9h8.9l-7.8 19.9h-9.6z"/><circle cx="34.3" cy="766.9" r="4.2"/></g>
<g fill="#dcdcdc"><path d="M11 762.9h16.9v19.9h-8.9v-11.6h-8z M42.8 762.9h8.9l-7.8 19.9h-9.6z"/><circle cx="34.3" cy="766.9" r="4.2"/></g>
</svg>
<div class="t" id="ttl" style="left:36.2px;top:6.8px;font-size:21.33px;color:#b4b7c1;-webkit-text-stroke:0.2px #b4b7c1;">ユーロ／加ドル</div>
<div class="t" id="d1" style="left:190.7px;top:0px;font-size:28px;font-family:DejaVu Sans,sans-serif;color:#dcdcdc;">·</div>
<div class="t" id="tf" style="left:204px;top:6.5px;font-size:21.33px;color:#b4b7c1;">1月</div>
<div class="t" id="d2" style="left:239.7px;top:2.2px;font-size:28px;font-family:DejaVu Sans,sans-serif;color:#dcdcdc;">·</div>
<div class="t" id="ex" style="left:253px;top:4px;font-size:21.33px;color:#b4b7c1;transform-origin:0 50%;transform:scaleX(0.85);">FXCM</div>
<div class="t" id="n3" style="left:33px;top:39px;font-size:18px;color:#f2f2f2;-webkit-text-stroke:0.35px #f2f2f2;">3</div>
<div class="t" id="cad" style="left:1674.9px;top:6.5px;font-size:15.4px;color:#e4e4e4;letter-spacing:-1.1px;">CAD</div>
<div class="t pl" style="top:41.0px;">1.65000</div>
<div class="t pl" style="top:108.0px;">1.60000</div>
<div class="t pl" style="top:174.5px;">1.55000</div>
<div class="t pl" style="top:241.5px;">1.50000</div>
<div class="t pl" style="top:308.5px;">1.45000</div>
<div class="t pl" style="top:375.5px;">1.40000</div>
<div class="t pl" style="top:442.5px;">1.35000</div>
<div class="t pl" style="top:509.5px;">1.30000</div>
<div class="t pl" style="top:593.0px;">100.00000</div>
<div class="t pl" style="top:639.5px;">50.00000</div>
<div class="t pl" style="top:685.5px;">0.00000</div>
<div class="t pl" style="top:731.5px;">−50.00000</div>
<div class="t pl" style="top:778.5px;">−100.00000</div>
<div class="t" id="cp" style="left:1666px;top:137px;width:76px;height:23px;background:#fff;border-radius:0 3px 3px 0;"></div>
<div class="t pl" id="cpt" style="top:142px;color:#000;-webkit-text-stroke:0.2px #000;">1.57511</div>
<div class="t tl" style="left:-6.8px;">7月</div>
<div class="t tl b" style="left:72.5px;">2017</div>
<div class="t tl" style="left:151.9px;">7月</div>
<div class="t tl b" style="left:231.2px;">2018</div>
<div class="t tl" style="left:310.5px;">7月</div>
<div class="t tl b" style="left:389.8px;">2019</div>
<div class="t tl" style="left:469.1px;">7月</div>
<div class="t tl b" style="left:548.4px;">2020</div>
<div class="t tl" style="left:627.7px;">7月</div>
<div class="t tl b" style="left:707.0px;">2021</div>
<div class="t tl" style="left:786.3px;">7月</div>
<div class="t tl b" style="left:865.7px;">2022</div>
<div class="t tl" style="left:945.0px;">7月</div>
<div class="t tl b" style="left:1024.3px;">2023</div>
<div class="t tl" style="left:1103.6px;">7月</div>
<div class="t tl b" style="left:1182.9px;">2024</div>
<div class="t tl" style="left:1262.2px;">7月</div>
<div class="t tl b" style="left:1341.5px;">2025</div>
<div class="t tl" style="left:1420.8px;">7月</div>
<div class="t tl b" style="left:1500.1px;">2026</div>
<div class="t tl" style="left:1579.5px;">7月</div>
</body></html>
